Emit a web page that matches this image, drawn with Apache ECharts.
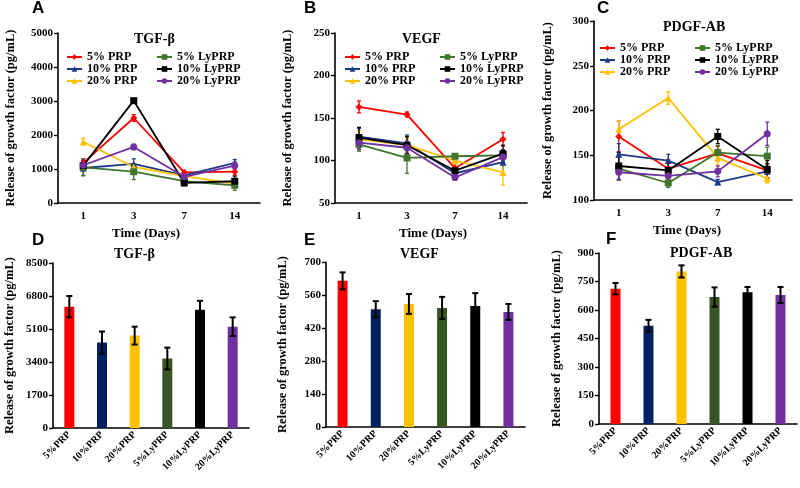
<!DOCTYPE html>
<html><head><meta charset="utf-8">
<script src="https://cdn.jsdelivr.net/npm/echarts@6/dist/echarts.min.js"></script>
<style>html,body{margin:0;padding:0;background:#fff}#c{width:800px;height:488px}</style>
</head><body><div id="c"></div>
<script>
// ---------- DATA ----------
const days = ['1', '3', '7', '14'];
const groupNames = ['5% PRP', '10% PRP', '20% PRP', '5% LyPRP', '10% LyPRP', '20% LyPRP'];
const barCategories = ['5%PRP', '10%PRP', '20%PRP', '5%LyPRP', '10%LyPRP', '20%LyPRP'];

// A: TGF-β release over time (pg/mL)
const tgf_5PRP = [1180, 2500, 900, 920];
const tgf_10PRP = [1030, 1150, 810, 1180];
const tgf_20PRP = [1800, 1060, 790, 570];
const tgf_5LyPRP = [1050, 920, 640, 520];
const tgf_10LyPRP = [1100, 3010, 590, 640];
const tgf_20LyPRP = [1110, 1650, 770, 1100];
const tgfErr_5PRP = [120, 100, 60, 100];
const tgfErr_10PRP = [220, 150, 70, 100];
const tgfErr_20PRP = [100, 100, 60, 80];
const tgfErr_5LyPRP = [250, 230, 80, 150];
const tgfErr_10LyPRP = [150, 60, 80, 150];
const tgfErr_20LyPRP = [150, 80, 60, 100];

// B: VEGF release over time (pg/mL)
const vegf_5PRP = [163, 154, 91, 125];
const vegf_10PRP = [128, 120, 85, 98];
const vegf_20PRP = [125, 118, 100, 86];
const vegf_5LyPRP = [119, 103, 105, 106];
const vegf_10LyPRP = [127, 118, 88, 108];
const vegf_20LyPRP = [121, 115, 80, 104];
const vegfErr_5PRP = [7, 3, 5, 8];
const vegfErr_10PRP = [10, 10, 4, 15];
const vegfErr_20PRP = [10, 8, 5, 15];
const vegfErr_5LyPRP = [8, 18, 3, 6];
const vegfErr_10LyPRP = [12, 10, 4, 10];
const vegfErr_20LyPRP = [8, 8, 3, 8];

// C: PDGF-AB release over time (pg/mL)
const pdgf_5PRP = [171, 135, 152, 133];
const pdgf_10PRP = [151, 144, 120, 132];
const pdgf_20PRP = [179, 214, 147, 124];
const pdgf_5LyPRP = [135, 119, 153, 149];
const pdgf_10LyPRP = [138, 133, 171, 134];
const pdgf_20LyPRP = [131, 127, 132, 174];
const pdgfErr_5PRP = [17, 10, 8, 8];
const pdgfErr_10PRP = [12, 7, 3, 8];
const pdgfErr_20PRP = [9, 7, 8, 5];
const pdgfErr_5LyPRP = [13, 5, 8, 10];
const pdgfErr_10LyPRP = [15, 8, 8, 10];
const pdgfErr_20LyPRP = [8, 5, 6, 13];

// D-F: cumulative release (pg/mL)
const tgfTotal = [6250, 4400, 4760, 3580, 6090, 5220];
const tgfTotalErr = [550, 570, 460, 560, 460, 480];
const vegfTotal = [620, 500, 522, 505, 513, 488];
const vegfTotalErr = [36, 34, 42, 47, 55, 34];
const pdgfTotal = [712, 517, 803, 668, 693, 679];
const pdgfTotalErr = [30, 31, 32, 51, 28, 42];

// ---------- STYLE ----------
const serif = 'Liberation Serif';
const lineStyles = {
  '5% PRP': {color: '#FF0000', symbol: 'diamond', size: 7},
  '10% PRP': {color: '#1F3A8A', symbol: 'triangle', size: 7},
  '20% PRP': {color: '#FFC000', symbol: 'triangle', size: 7},
  '5% LyPRP': {color: '#41752E', symbol: 'rect', size: 7},
  '10% LyPRP': {color: '#000000', symbol: 'rect', size: 7},
  '20% LyPRP': {color: '#7030A0', symbol: 'circle', size: 7}
};
const barColors = ['#FF0000', '#002060', '#FFC000', '#375623', '#000000', '#7030A0'];

const panels = [
  {grid: {left: 58, top: 33, width: 202, height: 170}, min: 0, max: 5000, interval: 1000,
   vals: [tgf_5PRP, tgf_10PRP, tgf_20PRP, tgf_5LyPRP, tgf_10LyPRP, tgf_20LyPRP],
   errs: [tgfErr_5PRP, tgfErr_10PRP, tgfErr_20PRP, tgfErr_5LyPRP, tgfErr_10LyPRP, tgfErr_20LyPRP],
   xNamePad: [0, 26, 0, 0]},
  {grid: {left: 335, top: 33, width: 192, height: 170}, min: 50, max: 250, interval: 50,
   vals: [vegf_5PRP, vegf_10PRP, vegf_20PRP, vegf_5LyPRP, vegf_10LyPRP, vegf_20LyPRP],
   errs: [vegfErr_5PRP, vegfErr_10PRP, vegfErr_20PRP, vegfErr_5LyPRP, vegfErr_10LyPRP, vegfErr_20LyPRP],
   xNamePad: [0, 0, 0, 4]},
  {grid: {left: 594, top: 21, width: 198, height: 179}, min: 100, max: 300, interval: 50,
   vals: [pdgf_5PRP, pdgf_10PRP, pdgf_20PRP, pdgf_5LyPRP, pdgf_10LyPRP, pdgf_20LyPRP],
   errs: [pdgfErr_5PRP, pdgfErr_10PRP, pdgfErr_20PRP, pdgfErr_5LyPRP, pdgfErr_10LyPRP, pdgfErr_20LyPRP],
   xNamePad: [0, 12, 0, 0]},
  {grid: {left: 53, top: 263, width: 196, height: 165}, min: 0, max: 8500, interval: 1700,
   bars: tgfTotal, barErr: tgfTotalErr},
  {grid: {left: 326, top: 262, width: 199, height: 165}, min: 0, max: 700, interval: 140,
   bars: vegfTotal, barErr: vegfTotalErr},
  {grid: {left: 599, top: 253, width: 198, height: 171}, min: 0, max: 900, interval: 150,
   bars: pdgfTotal, barErr: pdgfTotalErr}
];

function errRender(capW, fixedColor, lw) {
  return function (params, api) {
    const x = api.value(0), y = api.value(1), e = api.value(2);
    const hi = api.coord([x, y + e]);
    const lo = api.coord([x, y - e]);
    const c = fixedColor || api.visual('color');
    const hw = capW / 2;
    const st = {stroke: c, lineWidth: lw};
    return {type: 'group', children: [
      {type: 'line', shape: {x1: hi[0], y1: hi[1], x2: lo[0], y2: lo[1]}, style: st},
      {type: 'line', shape: {x1: hi[0] - hw, y1: hi[1], x2: hi[0] + hw, y2: hi[1]}, style: st},
      {type: 'line', shape: {x1: lo[0] - hw, y1: lo[1], x2: lo[0] + hw, y2: lo[1]}, style: st}
    ]};
  };
}

const grids = [], xAxes = [], yAxes = [], series = [];
const yNameGaps = [41, 41, 40, 37, 37, 36];
panels.forEach((p, i) => {
  grids.push(p.grid);
  const isBar = !!p.bars;
  xAxes.push({
    type: 'category', gridIndex: i, data: isBar ? barCategories : days,
    axisLine: {lineStyle: {color: '#000', width: 1.6}},
    axisTick: {length: 4, lineStyle: {color: '#000', width: 1.4}},
    axisLabel: isBar
      ? {rotate: 45, interval: 0, fontFamily: serif, fontWeight: 'bold', fontSize: 10, color: '#000', margin: 5}
      : {fontFamily: serif, fontWeight: 'bold', fontSize: 11, color: '#000', margin: 8},
    name: isBar ? '' : 'Time (Days)', nameLocation: 'middle', nameGap: 24,
    nameTextStyle: {fontFamily: serif, fontWeight: 'bold', fontSize: 13, color: '#000',
      padding: p.xNamePad || 0}
  });
  yAxes.push({
    type: 'value', gridIndex: i, min: p.min, max: p.max, interval: p.interval,
    axisLine: {show: true, lineStyle: {color: '#000', width: 1.6}},
    axisTick: {show: true, length: 4, lineStyle: {color: '#000', width: 1.4}},
    splitLine: {show: false},
    axisLabel: {fontFamily: serif, fontWeight: 'bold', fontSize: 11, color: '#000', margin: 5,
      formatter: v => String(v)},
    name: 'Release of growth factor (pg/mL)', nameLocation: 'middle', nameGap: yNameGaps[i],
    nameTextStyle: {fontFamily: serif, fontWeight: 'bold', fontSize: 12.5, color: '#000'}
  });
  if (isBar) {
    series.push({
      type: 'bar', xAxisIndex: i, yAxisIndex: i, barWidth: 10,
      data: p.bars.map((v, k) => ({value: v, itemStyle: {color: barColors[k]}}))
    });
    series.push({
      type: 'custom', xAxisIndex: i, yAxisIndex: i, z: 5,
      renderItem: errRender(6, '#000', 2),
      data: p.bars.map((v, k) => [k, v, p.barErr[k]])
    });
  } else {
    groupNames.forEach((name, k) => {
      const s = lineStyles[name];
      series.push({
        type: 'line', name: name, xAxisIndex: i, yAxisIndex: i,
        data: p.vals[k], symbol: s.symbol, symbolSize: s.size,
        color: s.color, lineStyle: {width: 1.8, color: s.color},
        itemStyle: {color: s.color}
      });
      series.push({
        type: 'custom', name: name + ' err', xAxisIndex: i, yAxisIndex: i,
        color: s.color, renderItem: errRender(4, s.color, 1.3),
        data: p.vals[k].map((v, d) => [d, v, p.errs[k][d]])
      });
    });
  }
});

const legendText = {fontFamily: serif, fontWeight: 'bold', fontSize: 12, color: '#000'};
function mkLegend(left, top, names) {
  return {orient: 'vertical', left: left, top: top, data: names, itemWidth: 15, itemHeight: 7,
    itemGap: 0, padding: 0, selectedMode: false, textStyle: legendText};
}
const legPRP = groupNames.slice(0, 3), legLy = groupNames.slice(3);
const legends = [
  mkLegend(66, 51, legPRP), mkLegend(156, 51, legLy),
  mkLegend(344, 51, legPRP), mkLegend(439, 51, legLy),
  mkLegend(599, 42, legPRP), mkLegend(694, 42, legLy)
];

const letterStyle = {fontFamily: 'Liberation Sans', fontWeight: 'bold', fontSize: 17, color: '#000'};
const titleStyle = {fontFamily: serif, fontWeight: 'bold', fontSize: 14, color: '#000'};
const titles = [
  {text: 'A', left: 32, top: 0, textStyle: letterStyle, padding: 0},
  {text: 'B', left: 304, top: 0, textStyle: letterStyle, padding: 0},
  {text: 'C', left: 597, top: 0, textStyle: letterStyle, padding: 0},
  {text: 'D', left: 32, top: 232, textStyle: letterStyle, padding: 0},
  {text: 'E', left: 304, top: 232, textStyle: letterStyle, padding: 0},
  {text: 'F', left: 606, top: 231, textStyle: letterStyle, padding: 0},
  {text: 'TGF-β', left: 134, top: 32, textStyle: titleStyle, padding: 0},
  {text: 'VEGF', left: 402, top: 32, textStyle: titleStyle, padding: 0},
  {text: 'PDGF-AB', left: 663, top: 20, textStyle: titleStyle, padding: 0},
  {text: 'TGF-β', left: 114, top: 247, textStyle: titleStyle, padding: 0},
  {text: 'VEGF', left: 400, top: 247, textStyle: titleStyle, padding: 0},
  {text: 'PDGF-AB', left: 670, top: 246, textStyle: titleStyle, padding: 0}
];

const chart = echarts.init(document.getElementById('c'), null, {renderer: 'canvas'});
chart.setOption({
  animation: false,
  backgroundColor: '#fff',
  title: titles,
  legend: legends,
  grid: grids,
  xAxis: xAxes,
  yAxis: yAxes,
  series: series
});
</script></body></html>
